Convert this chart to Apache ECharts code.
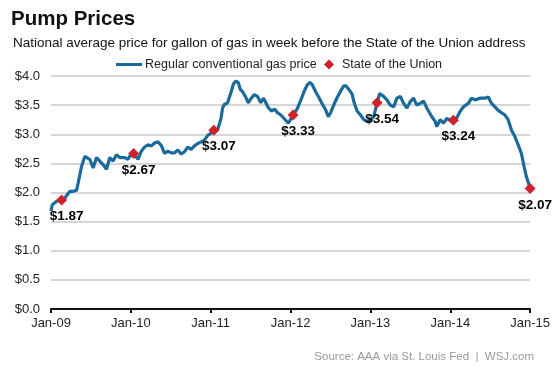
<!DOCTYPE html>
<html>
<head>
<meta charset="utf-8">
<script src="https://cdn.jsdelivr.net/npm/echarts@6/dist/echarts.min.js"></script>
<style>
  html, body { margin: 0; padding: 0; background: #fff; }
  #chart { width: 553px; height: 369px; }
</style>
</head>
<body>
<div id="chart"></div>
<script>
// Weekly national average (decimal year, $/gal)
const weekYear = [
  2009.000, 2009.016, 2009.071, 2009.133, 2009.175, 2009.237, 2009.278, 2009.321, 2009.341, 2009.383,
  2009.424, 2009.445, 2009.486, 2009.528, 2009.570, 2009.611, 2009.652, 2009.695, 2009.736, 2009.777,
  2009.820, 2009.861, 2009.923, 2009.964, 2009.985,
  2010.035, 2010.089, 2010.131, 2010.173, 2010.214, 2010.256, 2010.297, 2010.339, 2010.381, 2010.422,
  2010.463, 2010.506, 2010.547, 2010.588, 2010.630, 2010.671, 2010.713, 2010.755, 2010.796, 2010.837,
  2010.880, 2010.921, 2010.962, 2010.996,
  2011.039, 2011.087, 2011.129, 2011.149, 2011.170, 2011.212, 2011.254, 2011.286, 2011.316, 2011.345,
  2011.370, 2011.399, 2011.441, 2011.470, 2011.503, 2011.545, 2011.586, 2011.628, 2011.661, 2011.691,
  2011.719, 2011.760, 2011.803, 2011.835, 2011.878, 2011.919, 2011.972,
  2012.031, 2012.085, 2012.127, 2012.168, 2012.210, 2012.243, 2012.272, 2012.314, 2012.355, 2012.397,
  2012.439, 2012.472, 2012.502, 2012.543, 2012.584, 2012.626, 2012.667, 2012.696, 2012.730, 2012.771,
  2012.792, 2012.833, 2012.876, 2012.917, 2012.958,
  2013.000, 2013.041, 2013.083, 2013.116, 2013.166, 2013.207, 2013.250, 2013.291, 2013.332, 2013.375,
  2013.416, 2013.457, 2013.499, 2013.540, 2013.581, 2013.624, 2013.665, 2013.706, 2013.727, 2013.769,
  2013.811, 2013.831, 2013.873, 2013.915, 2013.956, 2013.998,
  2014.039, 2014.080, 2014.123, 2014.164, 2014.226, 2014.267, 2014.310, 2014.372, 2014.435, 2014.476,
  2014.517, 2014.559, 2014.600, 2014.642, 2014.684, 2014.725, 2014.767, 2014.809, 2014.850, 2014.891,
  2014.925, 2014.954, 2015.000
];
const gasPrice = [
  1.68, 1.79, 1.85, 1.87, 1.91, 2.02, 2.02, 2.04, 2.17, 2.45,
  2.62, 2.65, 2.57, 2.42, 2.60, 2.54, 2.48, 2.40, 2.60, 2.54,
  2.65, 2.60, 2.60, 2.57, 2.62,
  2.67, 2.57, 2.71, 2.78, 2.82, 2.80, 2.85, 2.87, 2.81, 2.67,
  2.71, 2.68, 2.68, 2.73, 2.66, 2.70, 2.78, 2.74, 2.80, 2.84,
  2.87, 2.90, 2.98, 3.01,
  3.07, 3.08, 3.27, 3.45, 3.51, 3.54, 3.72, 3.87, 3.91, 3.89,
  3.77, 3.73, 3.63, 3.54, 3.61, 3.68, 3.65, 3.54, 3.62, 3.54,
  3.46, 3.40, 3.43, 3.37, 3.33, 3.27, 3.19,
  3.33, 3.44, 3.58, 3.73, 3.85, 3.89, 3.85, 3.73, 3.63, 3.52,
  3.42, 3.30, 3.37, 3.51, 3.63, 3.74, 3.83, 3.83, 3.77, 3.69,
  3.56, 3.40, 3.33, 3.25, 3.22,
  3.25, 3.30, 3.54, 3.70, 3.65, 3.59, 3.50, 3.47, 3.62, 3.65,
  3.53, 3.45, 3.56, 3.62, 3.50, 3.53, 3.57, 3.45, 3.40, 3.30,
  3.22, 3.13, 3.25, 3.19, 3.27, 3.24,
  3.24, 3.28, 3.39, 3.47, 3.53, 3.62, 3.59, 3.62, 3.62, 3.64,
  3.53, 3.47, 3.41, 3.37, 3.33, 3.25, 3.07, 2.96, 2.82, 2.67,
  2.44, 2.27, 2.07
];
// State of the Union weeks
const sotuYear = [2009.133, 2010.035, 2011.039, 2012.031, 2013.083, 2014.039, 2015.000];
const sotuPrice = [1.87, 2.67, 3.07, 3.33, 3.54, 3.24, 2.07];
// Axis tick labels
const xTickLabels = ['Jan-09', 'Jan-10', 'Jan-11', 'Jan-12', 'Jan-13', 'Jan-14', 'Jan-15'];
const xTickStart = 2009;

const lineName = 'Regular conventional gas price';
const sotuName = 'State of the Union';
const FONT = '"Liberation Sans", Arial, Helvetica, sans-serif';

const chart = echarts.init(document.getElementById('chart'), null, { renderer: 'canvas' });
chart.setOption({
  animation: false,
  backgroundColor: '#ffffff',
  textStyle: { fontFamily: FONT },
  title: [
    { text: 'Pump Prices', left: 6, top: 4,
      textStyle: { fontFamily: FONT, fontSize: 20.5, fontWeight: 'bold', color: '#111' } },
    { text: 'National average price for gallon of gas in week before the State of the Union address', left: 8, top: 31,
      textStyle: { fontFamily: FONT, fontSize: 13.5, fontWeight: 'normal', color: '#111' } },
    { text: 'Source: AAA via St. Louis Fed  |  WSJ.com', right: 14, top: 346,
      textStyle: { fontFamily: FONT, fontSize: 11.5, fontWeight: 'normal', color: '#999' } }
  ],
  legend: [
    { data: [{ name: lineName, icon: 'rect' }], left: 111, top: 53, itemWidth: 26, itemHeight: 3, itemGap: 4,
      textStyle: { fontFamily: FONT, fontSize: 12.5, color: '#222', padding: [0, 0, 0, -2] } },
    { data: [{ name: sotuName, icon: 'diamond' }], left: 319, top: 53, itemWidth: 10, itemHeight: 10,
      textStyle: { fontFamily: FONT, fontSize: 12.5, color: '#222', padding: [0, 0, 0, 3] } }
  ],
  grid: { left: 51, right: 21, top: 76, bottom: 60, containLabel: false },
  xAxis: {
    type: 'value', min: 2009, max: 2015, interval: 1,
    axisLine: { show: true, lineStyle: { color: '#111', width: 2 } },
    axisTick: { show: true, length: 4, lineStyle: { color: '#111', width: 2 } },
    axisLabel: { fontFamily: FONT, fontSize: 13, color: '#222', margin: 8,
      formatter: v => xTickLabels[Math.round(v - xTickStart)] },
    splitLine: { show: false }
  },
  yAxis: {
    type: 'value', min: 0, max: 4, interval: 0.5,
    axisLine: { show: false }, axisTick: { show: false },
    axisLabel: { fontFamily: FONT, fontSize: 13, color: '#222', margin: 11,
      formatter: v => '$' + v.toFixed(1) },
    splitLine: { show: true, lineStyle: { color: '#c8c8c8', width: 1.5 } }
  },
  series: [
    { name: lineName, type: 'line', symbol: 'none', z: 2,
      data: weekYear.map((t, i) => [t, gasPrice[i]]),
      lineStyle: { color: '#1a6b9c', width: 3.2 }, itemStyle: { color: '#1a6b9c' } },
    { name: sotuName, type: 'scatter', symbol: 'diamond', symbolSize: 11, z: 3,
      data: sotuYear.map((t, i) => [t, sotuPrice[i]]),
      itemStyle: { color: '#d0202a', opacity: 1 },
      label: { show: true, position: 'bottom', distance: 4, offset: [5, 0],
        fontFamily: FONT, fontSize: 13.5, fontWeight: 'bold', color: '#000',
        formatter: p => '$' + p.value[1].toFixed(2) } }
  ]
});
</script>
</body>
</html>
